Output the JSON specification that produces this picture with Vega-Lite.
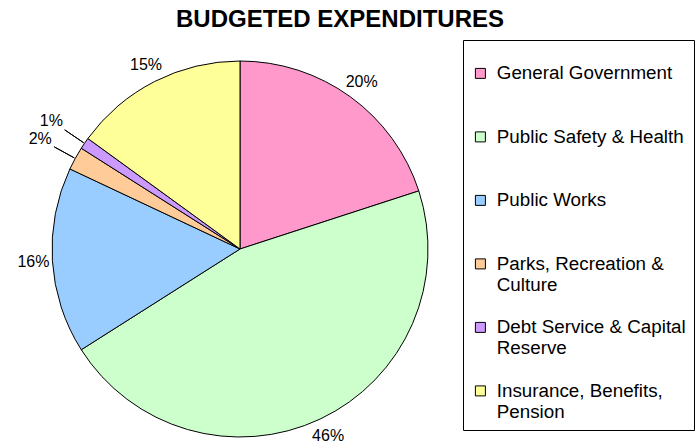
{
  "$schema": "https://vega.github.io/schema/vega-lite/v6.json",
  "autosize": {"type": "none"},
  "padding": {"left": 0, "top": 54, "right": 216, "bottom": 0},
  "width": 480,
  "height": 390,
  "background": "white",
  "title": {"text": "BUDGETED EXPENDITURES", "font": "Liberation Sans", "fontSize": 24, "fontWeight": "bold", "color": "black", "anchor": "middle", "dx": 100, "offset": 6},
  "data": {"values": [
    {"k": 0, "category": "General Government", "pct": 20, "label": "20%"},
    {"k": 1, "category": "Public Safety & Health", "pct": 46, "label": "46%"},
    {"k": 2, "category": "Public Works", "pct": 16, "label": "16%"},
    {"k": 3, "category": "Parks, Recreation & Culture", "pct": 2, "label": "2%"},
    {"k": 4, "category": "Debt Service & Capital Reserve", "pct": 1, "label": "1%"},
    {"k": 5, "category": "Insurance, Benefits, Pension", "pct": 15, "label": "15%"}
  ]},
  "encoding": {
    "theta": {"field": "pct", "type": "quantitative", "stack": true},
    "order": {"field": "k", "type": "quantitative"}
  },
  "layer": [
    {
      "mark": {"type": "arc", "radius": 188, "stroke": "black", "strokeWidth": 1},
      "encoding": {
        "color": {
          "field": "category", "type": "nominal", "sort": null,
          "scale": {
            "domain": ["General Government", "Public Safety & Health", "Public Works", "Parks, Recreation & Culture", "Debt Service & Capital Reserve", "Insurance, Benefits, Pension"],
            "range": ["#FF99CC", "#CCFFCC", "#99CCFF", "#FFCC99", "#CC99FF", "#FFFF99"]
          },
          "legend": {
            "orient": "none", "legendX": 463, "legendY": -14,
            "title": " ", "titleFontSize": 12, "titlePadding": 4,
            "strokeColor": "black", "fillColor": "white", "padding": 8,
            "symbolType": "square", "symbolSize": 100, "symbolStrokeColor": "black", "symbolStrokeWidth": 1,
            "labelFont": "Liberation Sans", "labelFontSize": 18.8, "labelColor": "black", "labelLimit": 400, "labelOffset": 7,
            "rowPadding": 23.5,
            "labelExpr": "datum.label == 'Parks, Recreation & Culture' ? ['Parks, Recreation &', 'Culture'] : datum.label == 'Debt Service & Capital Reserve' ? ['Debt Service & Capital', 'Reserve'] : datum.label == 'Insurance, Benefits, Pension' ? ['Insurance, Benefits,', 'Pension'] : [datum.label, ' ']"
          }
        }
      }
    },
    {
      "mark": {"type": "arc", "radius": 189, "radius2": 212, "padAngle": 1.5, "fillOpacity": 0, "stroke": "black", "strokeWidth": 1},
      "encoding": {
        "strokeOpacity": {"condition": {"test": "datum.pct < 5", "value": 1}, "value": 0}
      }
    },
    {
      "mark": {"type": "text", "radius": 207, "font": "Liberation Sans", "fontSize": 16, "color": "black"},
      "encoding": {
        "text": {"field": "label"},
        "opacity": {"condition": {"test": "datum.pct < 5", "value": 0}, "value": 1}
      }
    },
    {
      "mark": {"type": "text", "radius": 228, "font": "Liberation Sans", "fontSize": 16, "color": "black"},
      "encoding": {
        "text": {"field": "label"},
        "opacity": {"condition": {"test": "datum.pct < 5", "value": 1}, "value": 0}
      }
    }
  ]
}
